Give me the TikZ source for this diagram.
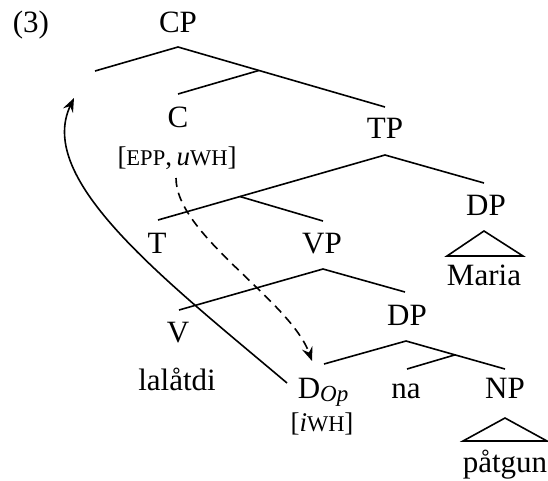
\documentclass[tikz,border=0pt]{standalone}
\usepackage{fontspec}
\setmainfont{Liberation Serif}
\usetikzlibrary{calc,arrows.meta}
% scaled capitals standing in for small caps
\newcommand\fakesc[1]{{\fontsize{22.5}{26}\selectfont #1}}
\begin{document}
\begin{tikzpicture}[x=1pt,y=-1pt,line width=1.6pt,
  lbl/.style={anchor=base,inner sep=0pt,font=\fontsize{31}{36}\selectfont},
  feat/.style={anchor=base,inner sep=0pt,font=\fontsize{27}{30}\selectfont},
  mv/.style={-{Stealth[length=14pt,width=11pt,inset=5pt]}},
  probe/.style={mv,dash pattern=on 9pt off 6pt}]
\useasboundingbox (0,0) rectangle (548,480);

% labels
\node[lbl,anchor=base west] (num) at (12,32) {(3)};
\node[lbl] (cp) at (178,32) {CP};
\node[lbl] (c) at (178,127) {C};
\node[feat] (cfeat) at (177,165) {[\fakesc{EPP},\,\textit{u}\fakesc{WH}]};
\node[lbl] (tp) at (385,138) {TP};
\node[lbl] (t) at (157,253) {T};
\node[lbl] (vp) at (322,253) {VP};
\node[lbl] (dpsub) at (486,215) {DP};
\node[lbl] (maria) at (484,285) {Maria};
\node[lbl] (v) at (178,342) {V};
\node[lbl] (lal) at (177,390) {lalåtdi};
\node[lbl] (dp) at (407,325) {DP};
\node[lbl,anchor=base west] (dop) at (297,398) {D\raisebox{-3pt}{\fontsize{23}{25}\selectfont\itshape Op}};
\node[feat] (dfeat) at (322,431) {[\textit{i}\fakesc{WH}]};
\node[lbl] (na) at (406,398) {na};
\node[lbl] (np) at (505,398) {NP};
\node[lbl] (pat) at (505,472) {påtgun};

% branching points and branch ends
\coordinate (cpTop) at (178,47);
\coordinate (spec) at (95,71);
\coordinate (cpR) at (385,107);
\coordinate (cbar) at ($(cpTop)!0.391!(cpR)$);
\coordinate (cEnd) at (178,94);
\coordinate (tpTop) at (385,155);
\coordinate (tbarL) at (158,220);
\coordinate (tbar) at ($(tpTop)!0.639!(tbarL)$);
\coordinate (tpR) at (484,183);
\coordinate (vpEnd) at (323,221);
\coordinate (vpTop) at (323,269);
\coordinate (vL) at (179,310);
\coordinate (vR) at (405,292);
\coordinate (dpTop) at (406,341);
\coordinate (dL) at (324,364);
\coordinate (dR) at (505,369);
\coordinate (dbar) at ($(dpTop)!0.495!(dR)$);
\coordinate (naEnd) at (407,369);

% branches
\draw (spec) -- (cpTop) -- (cpR);
\draw (cbar) -- (cEnd);
\draw (tbarL) -- (tpTop) -- (tpR);
\draw (tbar) -- (vpEnd);
\draw (vL) -- (vpTop) -- (vR);
\draw (dL) -- (dpTop) -- (dR);
\draw (dbar) -- (naEnd);

% roofs over unanalysed phrases
\coordinate (mariaTop) at (484,231);
\draw (447,256) -- (mariaTop) -- (523,256) -- cycle;
\coordinate (patTop) at (505,418);
\draw (463,441) -- (patTop) -- (547,441) -- cycle;

% movement of the operator and Agree probe
\coordinate (opsrc) at (287,383);
\coordinate (landing) at (74,98);
\draw[mv] (opsrc) .. controls (165,280) and (35,180) .. (landing);
\coordinate (probeStart) at (176,178);
\coordinate (goal) at (312,361);
\draw[probe] (probeStart) .. controls (176,235) and (290,300) .. (goal);
\end{tikzpicture}
\end{document}
